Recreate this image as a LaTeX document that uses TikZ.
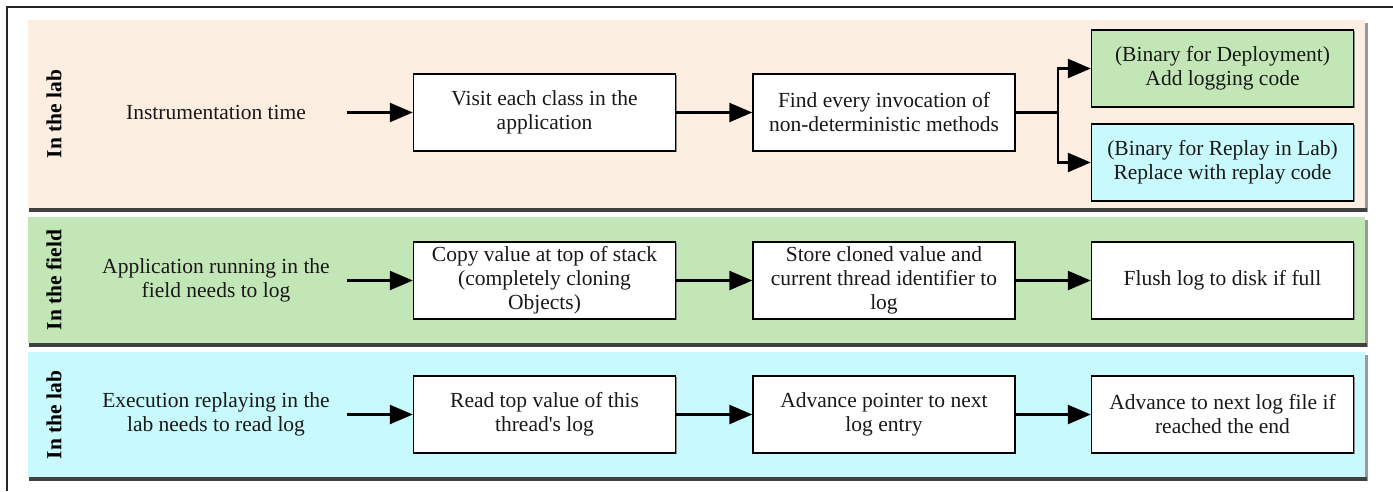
\documentclass[tikz,border=0pt]{standalone}
\usepackage{fontspec}
\setmainfont{Liberation Serif}
\usetikzlibrary{arrows.meta,shadows}
\definecolor{peach}{HTML}{FDEEE2}
\definecolor{fieldgreen}{HTML}{C3E6B7}
\definecolor{labcyan}{HTML}{C8FAFD}
\begin{document}
\begin{tikzpicture}[x=1pt,y=-1pt,
  box/.style={draw=black, line width=1.4pt, minimum width=262pt, minimum height=77pt,
    inner sep=0pt, align=center, text=black!90, font=\fontsize{21.5}{24}\selectfont,
    general shadow={fill=black!45, shadow xshift=1.2pt, shadow yshift=-1.2pt}},
  wbox/.style={box, fill=white},
  lbl/.style={align=center, text=black!90, font=\fontsize{21.5}{24}\selectfont},
  lane/.style={rotate=90, font=\fontsize{21.5}{24}\selectfont\bfseries},
  conn/.style={line width=2.4pt, -{Triangle[length=23pt,width=19pt]}},
  plain/.style={line width=2.4pt}]
\useasboundingbox (0,0) rectangle (1393,491);
\fill[white] (0,0) rectangle (1393,491);
% outer frame
\draw[line width=1.5pt, black!85] (7,491) -- (7,7) -- (1393,7);
% band shadows and fills
\foreach \ya/\yb/\col in {20/207.5/peach, 217/343/fieldgreen, 352/476.5/labcyan}{
  \fill[black!40] (31,\ya+3) rectangle (1368,\yb+4);
  \fill[black!75] (29,\yb) rectangle (1367,\yb+4);
  \fill[\col] (28,\ya) rectangle (1365,\yb);
}
% lane labels
\node[lane] (l1) at (54,114) {In the lab};
\node[lane] (l2) at (54,280) {In the field};
\node[lane] (l3) at (54,415) {In the lab};
% row 1
\node[lbl] (t1) at (216,112.5) {Instrumentation time};
\coordinate (s1) at (347,112.5);
\node[wbox] (a1) at (544.5,112.5) {Visit each class in the\\application};
\node[wbox] (b1) at (884,112.5) {Find every invocation of\\non-deterministic methods};
\node[box, fill=fieldgreen] (c1) at (1222.5,68.5) {(Binary for Deployment)\\Add logging code};
\node[box, fill=labcyan] (d1) at (1222.5,162.5) {(Binary for Replay in Lab)\\Replace with replay code};
\coordinate (j1) at (1058,112.5);
\draw[conn] (s1) -- (a1);
\draw[conn] (a1) -- (b1);
\draw[plain] (b1.east) -- (j1);
\draw[conn] (j1) |- (c1.west);
\draw[conn] (j1) |- (d1.west);
% row 2
\node[lbl] (t2) at (216,280.5) {Application running in the\\field needs to log};
\coordinate (s2) at (347,280.5);
\node[wbox] (a2) at (544.5,280.5) {Copy value at top of stack\\(completely cloning\\Objects)};
\node[wbox] (b2) at (884,280.5) {Store cloned value and\\current thread identifier to\\log};
\node[wbox] (c2) at (1222.5,280.5) {Flush log to disk if full};
\draw[conn] (s2) -- (a2);
\draw[conn] (a2) -- (b2);
\draw[conn] (b2) -- (c2);
% row 3
\node[lbl] (t3) at (216,414.5) {Execution replaying in the\\lab needs to read log};
\coordinate (s3) at (347,414.5);
\node[wbox] (a3) at (544.5,414.5) {Read top value of this\\thread\textquotesingle s log};
\node[wbox] (b3) at (884,414.5) {Advance pointer to next\\log entry};
\node[wbox] (c3) at (1222.5,414.5) {Advance to next log file if\\reached the end};
\draw[conn] (s3) -- (a3);
\draw[conn] (a3) -- (b3);
\draw[conn] (b3) -- (c3);
\end{tikzpicture}
\end{document}
